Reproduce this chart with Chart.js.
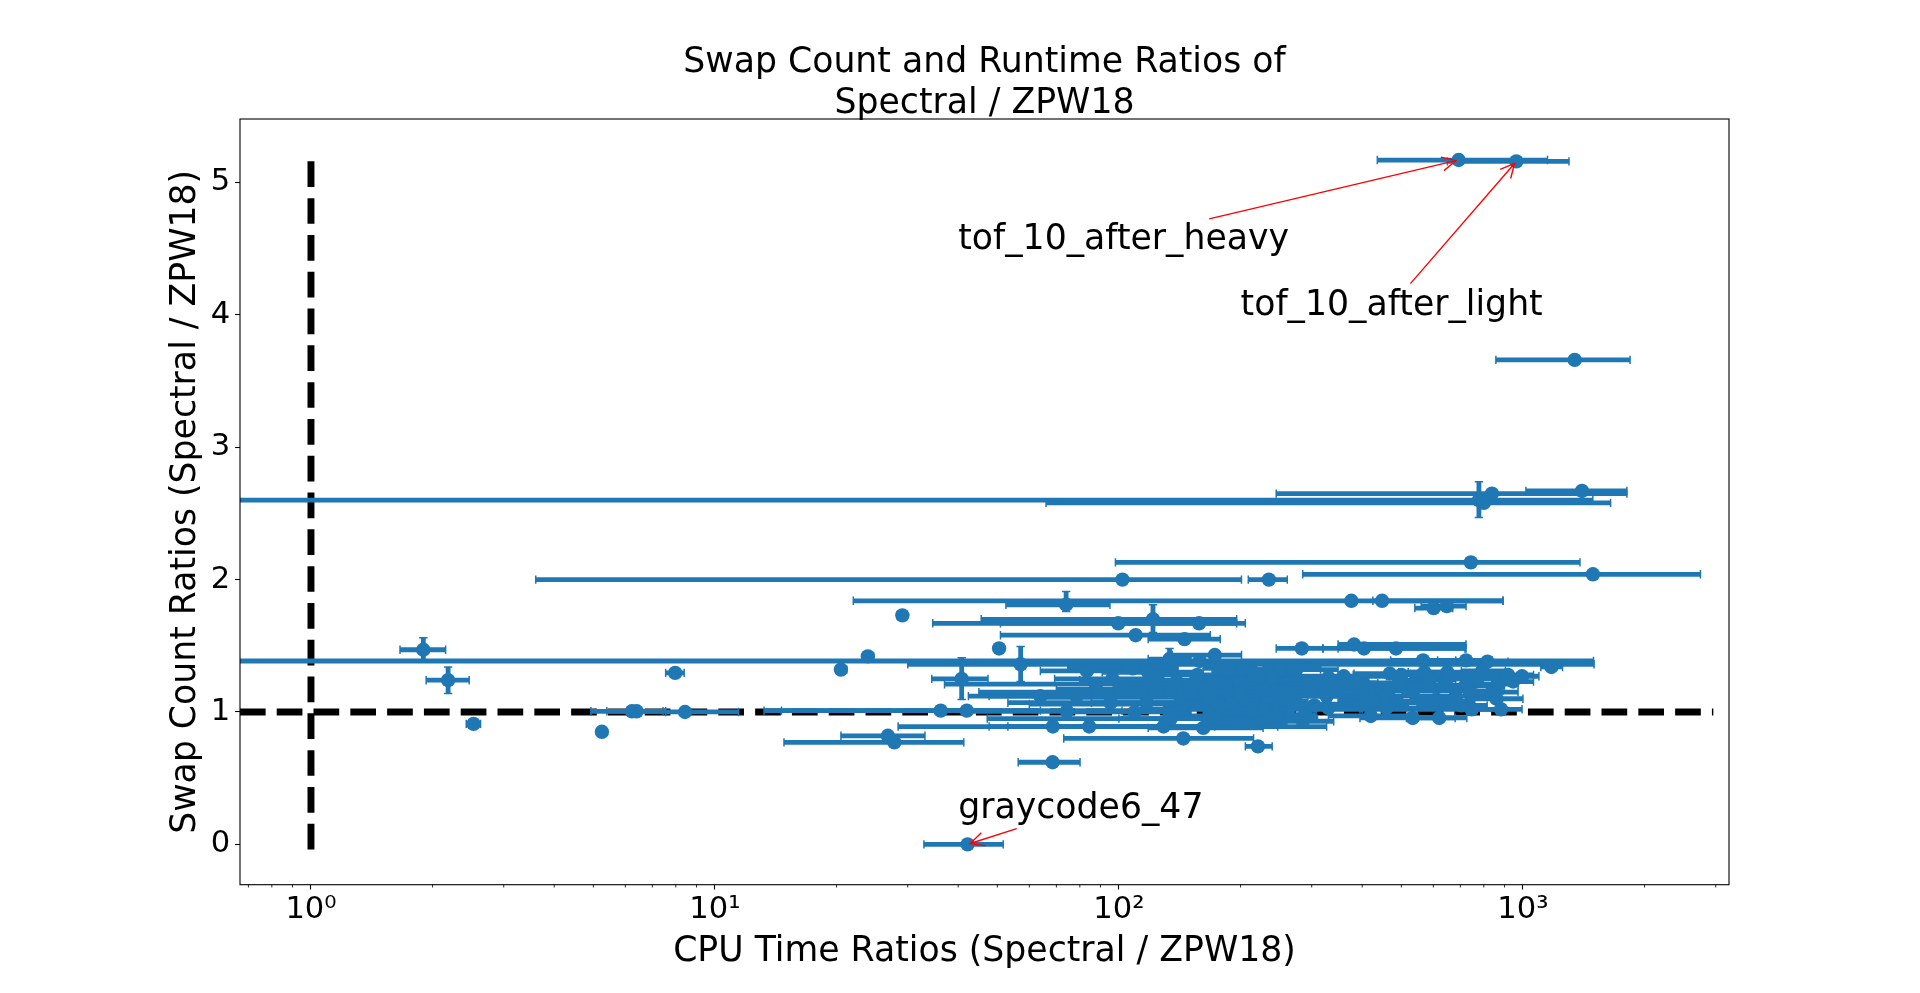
<!DOCTYPE html>
<html>
<head>
<meta charset="utf-8">
<script src="https://cdn.jsdelivr.net/npm/chart.js@4.4.1/dist/chart.umd.min.js"></script>
<style>
  html, body { margin: 0; padding: 0; background: #fff; overflow: hidden; }
  #wrap { width: 1920px; height: 993px; position: relative; overflow: hidden; }
  canvas { display: block; }
</style>
</head>
<body>
<div id="wrap"><canvas id="c" width="1920" height="993"></canvas></div>
<script>
// ---------------- data ----------------
const cpuRatio = [693, 963, 1343, 778, 838, 1400, 800, 743, 102, 235, 1490,
  376, 448, 601, 648, 74, 29.1, 99.6, 121.4, 157.9, 110, 145.3, 50.5, 23.9, 20.5, 40.8, 57.1, 158.4,
  1.897, 2.185, 2.526, 7.97, 5.25, 6.23, 6.40, 8.43, 36.2, 42.0, 68.6, 26.8, 27.8, 68.5, 144.3, 220.8, 42.2,
  283.5, 381.9, 403.9, 484.9, 172.7, 133.4, 565.8, 723, 816.7, 1176, 274.7, 250.5, 329.9, 918.4, 945.6, 868.1, 588.1, 659.5, 413.9,
  519.2, 468.1, 738.6, 746.4, 533.6, 620.4, 289.1, 612.6, 565.8, 424.9, 108.3, 83.3, 186.8, 269.3, 87.7, 138.8, 198.9, 74.3, 84.4, 168.3,
  129, 161.7, 117, 142.1, 168.3, 95.3, 109.4, 78.6, 198.9, 231.8, 246.1, 105, 150.8, 178.1, 211, 123.6, 96.3, 222, 183.5, 134.4,
  205.5, 232.9, 156.3, 63.9, 118.1, 681.7, 770.9, 492.6, 570.3, 837.8, 704, 459.2, 637.1, 994.8, 793.2, 381.9, 326.6, 304.4, 882.6,
  300, 330, 360, 262, 405, 285, 455, 240, 190, 150, 120, 540, 600, 860, 720, 500, 175, 215, 100, 650, 420, 230];
const cpuLow = [436, 650, 857, 0.3, 245, 1017, 66, 98, 3.6, 209, 285,
  22, 425, 540, 560, 52.5, 28.2, 34.6, 45.6, 50.9, 50.9, 118.1, 49.3, 23.2, 19.9, 34.4, 30.0, 0.25,
  1.661, 1.928, 2.423, 7.55, 5.14, 4.93, 5.40, 7.55, 13.23, 14.61, 28.4, 20.5, 14.82, 56.3, 73.0, 205.5, 32.9,
  245, 348.6, 319.9, 348.6, 135.5, 118.1, 470.4, 614.9, 681.7, 1107, 216.4, 194.5, 260.4, 770.9, 837.8, 770.9, 492.6, 525.8, 326.6,
  437.2, 381.9, 614.9, 395, 395, 514.7, 249.4, 525.8, 481.5, 348.6, 85.5, 63.9, 161.7, 227.4, 37.0, 96.3, 161.7, 42.4, 47.7, 129,
  53.1, 118.1, 85.5, 63.9, 139.9, 53.1, 74.7, 42.4, 150.8, 183.5, 194.5, 74.7, 101.8, 129, 161.7, 85.5, 69.3, 172.7, 139.9, 47.2,
  161.7, 205.5, 118.1, 47.7, 90.9, 548.2, 659.5, 415, 492.6, 715.1, 603.8, 395, 537, 882.6, 704, 326.6, 282.5, 260.4, 770.9,
  200, 250, 280, 180, 300, 230, 350, 150, 60, 45, 80, 420, 470, 720, 560, 380, 100, 170, 70, 520, 330, 110];
const cpuHigh = [1150, 1300, 1841, 1489, 1808, 1808, 1648, 1384, 201, 261, 2750,
  893, 893, 670, 723, 95, 29.9, 195.6, 195.6, 205.5, 168.3, 178.1, 51.7, 24.7, 21.2, 47.4, 1500, 1495,
  2.154, 2.464, 2.629, 8.39, 5.35, 7.55, 7.44, 11.44, 63.9, 101.8, 326.6, 33.1, 41.3, 80.1, 215.4, 239.5, 51.7,
  319.9, 723, 718.5, 723, 201.1, 150.8, 681.7, 837.8, 918.4, 1253, 348.6, 315.5, 415, 1062, 1062, 972.5, 681.7, 837.8, 503.7,
  614.9, 548.2, 892.6, 877.1, 679.5, 726.3, 305.5, 704, 659.5, 503.7, 139.9, 107.2, 216.4, 315.5, 326.6, 216.4, 249.4, 107.2, 172.7, 216.4,
  247.2, 227.4, 150.8, 282.5, 205.5, 161.7, 150.8, 216.4, 282.5, 293.5, 307.7, 139.9, 249.4, 260.4, 271.4, 194.5, 129, 282.5, 227.4, 183.5,
  260.4, 260.4, 205.5, 85.5, 161.7, 837.8, 916.2, 570.3, 659.5, 972.5, 815.5, 548.2, 748.7, 1095, 904.9, 437.2, 392.8, 359.7, 994.8,
  450, 420, 460, 380, 560, 340, 600, 350, 520, 480, 330, 700, 760, 1000, 900, 650, 310, 280, 150, 800, 520, 400];
const swapRatio = [5.17, 5.16, 3.66, 2.60, 2.65, 2.67, 2.58, 2.13, 2.0, 2.0, 2.04,
  1.84, 1.84, 1.785, 1.80, 1.81, 1.73, 1.67, 1.70, 1.67, 1.58, 1.55, 1.48, 1.42, 1.32, 1.25, 1.36, 1.385,
  1.47, 1.24, 0.91, 1.295, 0.85, 1.005, 1.005, 1.0, 1.01, 1.01, 0.89, 0.82, 0.77, 0.62, 0.80, 0.74, 0.0,
  1.48, 1.51, 1.48, 1.48, 1.43, 1.40, 1.39, 1.39, 1.38, 1.34, 1.32, 1.32, 1.26, 1.28, 1.23, 1.21, 1.24, 1.27, 1.16,
  1.16, 1.29, 1.16, 1.02, 0.955, 0.955, 0.98, 1.09, 1.07, 1.09, 1.33, 1.31, 1.33, 1.33, 1.21, 1.23, 1.22, 1.005, 0.89, 0.97,
  0.89, 0.88, 1.07, 1.11, 1.10, 1.07, 1.0, 1.12, 1.14, 1.08, 0.97, 1.34, 1.18, 1.05, 1.00, 1.15, 1.25, 1.27, 1.20, 0.95,
  0.92, 1.17, 1.28, 1.12, 1.30, 1.12, 1.25, 1.22, 1.30, 1.15, 1.05, 1.03, 1.20, 1.27, 1.31, 1.22, 1.12, 1.05, 1.02,
  1.18, 1.03, 1.27, 1.12, 1.20, 0.93, 1.12, 1.25, 1.06, 1.15, 1.24, 1.18, 1.08, 1.10, 1.20, 1.28, 0.95, 1.30, 1.17, 1.30, 0.97, 1.02];
// swap-count error bounds (only where a vertical bar is visible)
const swapErrIndex = [3, 15, 18, 25, 26, 28, 29, 50];
const swapLow  = [2.47, 1.76, 1.60, 1.095, 1.23, 1.375, 1.14, 1.35];
const swapHigh = [2.74, 1.91, 1.81, 1.41, 1.495, 1.56, 1.34, 1.48];

// reference lines
const refLineX = [0.667, 2960];   // horizontal line at swap ratio 1
const refLineY = [5.16, -0.05];   // vertical line at cpu ratio 1

// annotations
const annoLabels = ['tof_10_after_heavy', 'tof_10_after_light', 'graycode6_47'];
const annoTextX = [40, 200, 40];
const annoTextY = [4.5, 4.0, 0.2];
const annoPointIndex = [0, 1, 44];

// axes
const xMin = 0.6673, xMax = 3236;
const yMin = -0.305, yMax = 5.48;
const xMajorTicks = [1, 10, 100, 1000];
const xTickLabels = ['10\u2070', '10\u00b9', '10\u00b2', '10\u00b3'];
const yTicks = [0, 1, 2, 3, 4, 5];

const titleLines = ['Swap Count and Runtime Ratios of', 'Spectral / ZPW18'];
const xLabel = 'CPU Time Ratios (Spectral / ZPW18)';
const yLabel = 'Swap Count Ratios (Spectral / ZPW18)';

// ---------------- styling ----------------
const BLUE = '#1f77b4';
const FONT = '"DejaVu Sans"';
const LABEL_PX = 34.7;
const TICK_PX = 30.6;
const PT = 100 / 72;

const points = cpuRatio.map((v, i) => ({ x: v, y: swapRatio[i] }));

const errorBars = {
  id: 'errorBars',
  beforeDatasetDraw(chart, args) {
    if (args.index !== 0) return;
    const { ctx, chartArea: a } = chart;
    const xs = chart.scales.x, ys = chart.scales.y;
    ctx.save();
    ctx.beginPath();
    ctx.rect(a.left, a.top, a.right - a.left, a.bottom - a.top);
    ctx.clip();
    ctx.strokeStyle = BLUE;
    ctx.lineCap = 'butt';
    const cap = 4.2;
    for (let i = 0; i < cpuRatio.length; i++) {
      const py = ys.getPixelForValue(swapRatio[i]);
      const x0 = xs.getPixelForValue(cpuLow[i]);
      const x1 = xs.getPixelForValue(cpuHigh[i]);
      ctx.lineWidth = 4.8;
      ctx.beginPath(); ctx.moveTo(x0, py); ctx.lineTo(x1, py); ctx.stroke();
      ctx.lineWidth = 1.5;
      ctx.beginPath();
      ctx.moveTo(x0, py - cap); ctx.lineTo(x0, py + cap);
      ctx.moveTo(x1, py - cap); ctx.lineTo(x1, py + cap);
      ctx.stroke();
    }
    swapErrIndex.forEach((i, k) => {
      const px = xs.getPixelForValue(cpuRatio[i]);
      const y0 = ys.getPixelForValue(swapLow[k]);
      const y1 = ys.getPixelForValue(swapHigh[k]);
      ctx.lineWidth = 4.8;
      ctx.beginPath(); ctx.moveTo(px, y0); ctx.lineTo(px, y1); ctx.stroke();
      ctx.lineWidth = 1.5;
      ctx.beginPath();
      ctx.moveTo(px - cap, y0); ctx.lineTo(px + cap, y0);
      ctx.moveTo(px - cap, y1); ctx.lineTo(px + cap, y1);
      ctx.stroke();
    });
    ctx.restore();
  }
};

function drawAnnotation(ctx, text, tx, ty, px, py) {
  ctx.save();
  ctx.font = LABEL_PX + 'px ' + FONT;
  ctx.fillStyle = '#000';
  ctx.textAlign = 'left';
  ctx.textBaseline = 'alphabetic';
  ctx.fillText(text, tx, ty);
  const w = ctx.measureText(text).width;
  const pad = 2 * PT;
  const L = tx - pad, R = tx + w + pad;
  const T = ty - 0.76 * LABEL_PX - pad, B = ty + 0.208 * LABEL_PX + pad;
  const cx = (L + R) / 2, cy = (T + B) / 2;
  const dx = px - cx, dy = py - cy;
  const len = Math.hypot(dx, dy);
  const ux = dx / len, uy = dy / len;
  let t = Infinity;
  if (ux > 0) t = Math.min(t, (R - cx) / ux);
  if (ux < 0) t = Math.min(t, (L - cx) / ux);
  if (uy > 0) t = Math.min(t, (B - cy) / uy);
  if (uy < 0) t = Math.min(t, (T - cy) / uy);
  const shrink = 2 * PT;
  const sx = cx + ux * (t + shrink), sy = cy + uy * (t + shrink);
  const ex = px - ux * shrink, ey = py - uy * shrink;
  ctx.strokeStyle = '#ff0000';
  ctx.lineWidth = 1.39;
  ctx.beginPath(); ctx.moveTo(sx, sy); ctx.lineTo(ex, ey); ctx.stroke();
  const hl = 0.4 * 25 * PT, hw = 0.2 * 25 * PT;
  const nx = -uy, ny = ux;
  ctx.beginPath();
  ctx.moveTo(ex - ux * hl + nx * hw, ey - uy * hl + ny * hw);
  ctx.lineTo(ex, ey);
  ctx.lineTo(ex - ux * hl - nx * hw, ey - uy * hl - ny * hw);
  ctx.stroke();
  ctx.restore();
}

const decorations = {
  id: 'decorations',
  afterDatasetsDraw(chart) {
    const { ctx, chartArea: a } = chart;
    const xs = chart.scales.x, ys = chart.scales.y;
    annoLabels.forEach((txt, k) => {
      const i = annoPointIndex[k];
      drawAnnotation(ctx, txt,
        xs.getPixelForValue(annoTextX[k]), ys.getPixelForValue(annoTextY[k]),
        xs.getPixelForValue(cpuRatio[i]), ys.getPixelForValue(swapRatio[i]));
    });
    ctx.save();
    ctx.strokeStyle = '#000';
    ctx.lineWidth = 1.1;
    ctx.strokeRect(a.left, a.top, a.right - a.left, a.bottom - a.top);
    ctx.restore();
  },
  afterDraw(chart) {
    const { ctx, chartArea: a } = chart;
    const xs = chart.scales.x;
    ctx.save();
    ctx.strokeStyle = '#000';
    ctx.lineWidth = 0.83;
    ctx.beginPath();
    for (let e = -1; e <= 3; e++) {
      for (let m = 2; m <= 9; m++) {
        const v = m * Math.pow(10, e);
        if (v < xMin || v > xMax) continue;
        const p = xs.getPixelForValue(v);
        ctx.moveTo(p, a.bottom); ctx.lineTo(p, a.bottom + 2.78);
      }
    }
    ctx.stroke();
    ctx.fillStyle = '#000';
    ctx.font = LABEL_PX + 'px ' + FONT;
    ctx.textAlign = 'center';
    ctx.textBaseline = 'alphabetic';
    const cx = (a.left + a.right) / 2;
    ctx.fillText(titleLines[0], cx, 71.7);
    ctx.fillText(titleLines[1], cx, 113.3);
    ctx.fillText(xLabel, cx, 961);
    ctx.translate(195, (a.top + a.bottom) / 2);
    ctx.rotate(-Math.PI / 2);
    ctx.fillText(yLabel, 0, 0);
    ctx.restore();
  }
};

Chart.defaults.font.family = FONT;
Chart.defaults.color = '#000';

new Chart(document.getElementById('c'), {
  type: 'scatter',
  data: {
    datasets: [
      {
        label: 'ratios',
        data: points,
        backgroundColor: BLUE,
        borderWidth: 0,
        pointRadius: 7.2,
        pointHoverRadius: 7.2,
        order: 0
      },
      {
        type: 'line',
        label: 'y=1',
        data: refLineX.map(v => ({ x: v, y: 1 })),
        borderColor: '#000',
        borderWidth: 6.94,
        borderDash: [25.7, 11.1],
        pointRadius: 0,
        fill: false,
        tension: 0,
        clip: 0,
        order: 1
      },
      {
        type: 'line',
        label: 'x=1',
        data: refLineY.map(v => ({ x: 1, y: v })),
        borderColor: '#000',
        borderWidth: 6.94,
        borderDash: [25.7, 11.1],
        pointRadius: 0,
        fill: false,
        tension: 0,
        clip: 0,
        order: 2
      }
    ]
  },
  options: {
    responsive: false,
    animation: false,
    devicePixelRatio: 1,
    events: [],
    layout: { padding: { left: 0, right: 191, top: 119, bottom: 0 } },
    plugins: { legend: { display: false }, tooltip: { enabled: false }, title: { display: false } },
    scales: {
      x: {
        type: 'logarithmic',
        min: xMin, max: xMax,
        afterBuildTicks: (s) => { s.ticks = xMajorTicks.map(v => ({ value: v, major: true })); },
        afterFit: (s) => { s.height = 108.3; },
        border: { display: false },
        grid: { drawOnChartArea: false, drawTicks: true, tickLength: 4.86, tickWidth: 1.1, tickColor: '#000' },
        ticks: {
          autoSkip: false, maxRotation: 0, padding: 2,
          font: { size: TICK_PX, family: FONT }, color: '#000',
          callback: (v) => { const k = xMajorTicks.indexOf(v); return k >= 0 ? xTickLabels[k] : ''; }
        }
      },
      y: {
        type: 'linear',
        min: yMin, max: yMax,
        afterBuildTicks: (s) => { s.ticks = yTicks.map(v => ({ value: v })); },
        afterFit: (s) => { s.width = 240; },
        border: { display: false },
        grid: { drawOnChartArea: false, drawTicks: true, tickLength: 4.86, tickWidth: 1.1, tickColor: '#000' },
        ticks: {
          padding: 4.9,
          font: { size: TICK_PX, family: FONT }, color: '#000',
          callback: (v) => String(v)
        }
      }
    }
  },
  plugins: [errorBars, decorations]
});
</script>
</body>
</html>
